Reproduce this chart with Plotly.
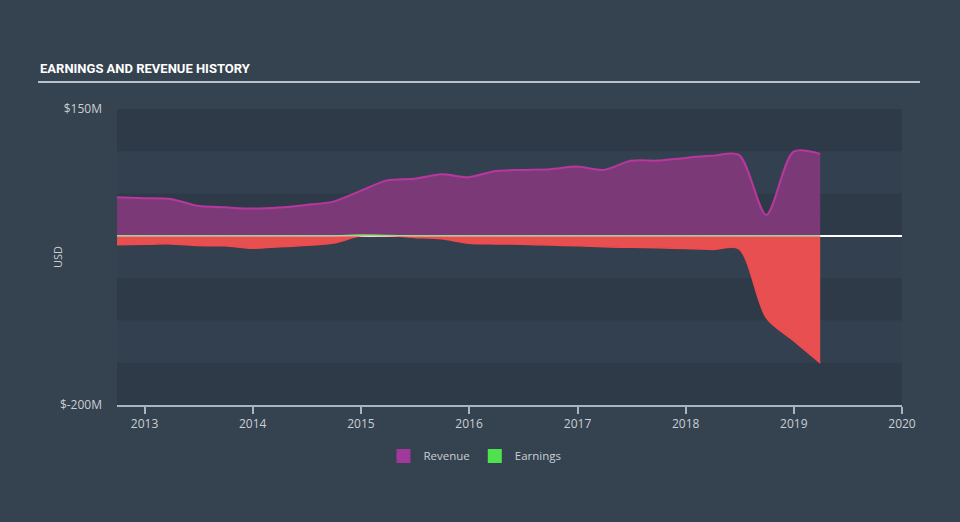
import plotly.graph_objects as go

# ---- data (USD millions, quarterly, trailing) ----
dates = ["2012-09-30", "2012-12-31", "2013-03-31", "2013-06-30", "2013-09-30", "2013-12-31",
         "2014-03-31", "2014-06-30", "2014-09-30", "2014-12-31", "2015-03-31", "2015-06-30",
         "2015-09-30", "2015-12-31", "2016-03-31", "2016-06-30", "2016-09-30", "2016-12-31",
         "2017-03-31", "2017-06-30", "2017-09-30", "2017-12-31", "2018-03-31", "2018-06-30",
         "2018-09-30", "2018-12-31", "2019-03-31"]
revenue = [45.7, 44.6, 43.7, 35.5, 33.7, 32.3, 33.5, 36.6, 40.5, 53.2, 65.6, 67.4,
           72.9, 69.4, 76.8, 78.0, 78.8, 81.9, 78.0, 88.7, 89.0, 92.2, 94.6, 95.8,
           24.8, 99.6, 96.9]
earnings = [-10.6, -10.0, -9.5, -11.5, -11.8, -14.6, -13.0, -11.2, -8.6, 1.5, 0.8, -1.8,
            -3.5, -8.6, -9.5, -10.0, -10.9, -11.8, -13.0, -13.6, -14.2, -15.0, -16.0, -15.4,
            -96.9, -124.0, -150.1]
y_ticks = [150, -200]
y_tick_labels = ["$150M", "$-200M"]
band_edges = [150, 100, 50, 0, -50, -100, -150, -200]
x_ticks = ["2013-01-01", "2014-01-01", "2015-01-01", "2016-01-01", "2017-01-01",
           "2018-01-01", "2019-01-01", "2020-01-01"]
x_tick_labels = ["2013", "2014", "2015", "2016", "2017", "2018", "2019", "2020"]

earn_pos = [max(v, 0) for v in earnings]
earn_neg = [min(v, 0) for v in earnings]

BG = "#35424f"
PLOT_BG = "#334050"
DARK_BAND = "#2e3a48"
TXT = "#c9cfd5"
FONT = "Open Sans"

fig = go.Figure()

fig.add_trace(go.Scatter(
    x=dates, y=revenue, mode="lines", fill="tozeroy",
    line=dict(color="#b8379f", width=2, shape="spline", smoothing=0.8),
    fillcolor="#7b3a77", showlegend=False, hoverinfo="skip"))
fig.add_trace(go.Scatter(
    x=dates, y=earn_neg, mode="lines", fill="tozeroy",
    line=dict(color="#f04a4d", width=1.5, shape="spline", smoothing=0.8),
    fillcolor="#e84f51", showlegend=False, hoverinfo="skip"))
fig.add_trace(go.Scatter(
    x=dates, y=earn_pos, mode="lines", fill="tozeroy",
    line=dict(color="#4fd84f", width=1, shape="spline", smoothing=0.8),
    fillcolor="rgba(79,216,79,0.6)", showlegend=False, hoverinfo="skip"))

# legend entries
fig.add_trace(go.Scatter(x=[None], y=[None], mode="markers", name="Revenue",
                         marker=dict(symbol="square", size=14, color="#a3389b")))
fig.add_trace(go.Scatter(x=[None], y=[None], mode="markers", name="Earnings",
                         marker=dict(symbol="square", size=14, color="#4fe24f")))

shapes = []
for i in range(0, len(band_edges) - 1, 2):
    shapes.append(dict(type="rect", xref="paper", yref="y", x0=0, x1=1,
                       y0=band_edges[i], y1=band_edges[i + 1],
                       fillcolor=DARK_BAND, line=dict(width=0), layer="below"))
# zero line overlay
shapes.append(dict(type="line", xref="paper", yref="y", x0=0, x1=1, y0=0, y1=0,
                   line=dict(color="rgba(255,255,255,0.5)", width=1.2), layer="above"))
# title underline
shapes.append(dict(type="line", xref="paper", yref="paper", x0=-0.1006, x1=1.0229,
                   y0=1.091, y1=1.091, line=dict(color="#bcc2c9", width=2)))

fig.update_layout(
    width=960, height=522,
    margin=dict(l=117, r=58, t=109, b=117),
    paper_bgcolor=BG, plot_bgcolor=PLOT_BG,
    font=dict(family=FONT, color=TXT, size=12),
    shapes=shapes,
    showlegend=True,
    legend=dict(orientation="h", x=0.456, xanchor="center", y=-0.172, yanchor="middle",
                itemwidth=30, font=dict(family=FONT, color=TXT, size=11.5),
                bgcolor="rgba(0,0,0,0)"),
    annotations=[
        dict(text="<b>EARNINGS AND REVENUE HISTORY</b>", xref="paper", yref="paper",
             x=-0.1006, y=1.138, xanchor="left", yanchor="middle", showarrow=False,
             font=dict(family="Roboto", size=13, color="#ffffff")),
        dict(text="USD", xref="paper", yref="paper", x=-0.0764, y=0.5, textangle=-90,
             xanchor="center", yanchor="middle", showarrow=False,
             font=dict(family=FONT, size=11, color=TXT)),
    ],
    xaxis=dict(type="date", range=["2012-09-30", "2020-01-01"], tickvals=x_ticks,
               ticktext=x_tick_labels, showgrid=False, zeroline=False,
               showline=True, linecolor="#a7b4c3", linewidth=1.5,
               ticks="outside", ticklen=7, tickcolor="#a7b4c3", tickwidth=1.5,
               tickfont=dict(family=FONT, size=12, color=TXT)),
    yaxis=dict(range=[-200, 150], tickvals=y_ticks, ticktext=y_tick_labels,
               showgrid=False, zeroline=True, zerolinecolor="#ffffff", zerolinewidth=1.5,
               showline=False, ticks="", ticklabelstandoff=14,
               tickfont=dict(family=FONT, size=12, color=TXT)),
)

fig.write_html("out.html",
               config={"displayModeBar": False},
               post_script="document.body.style.margin='0';"
                           "document.body.style.overflow='hidden';"
                           "document.body.style.background='" + BG + "';")
